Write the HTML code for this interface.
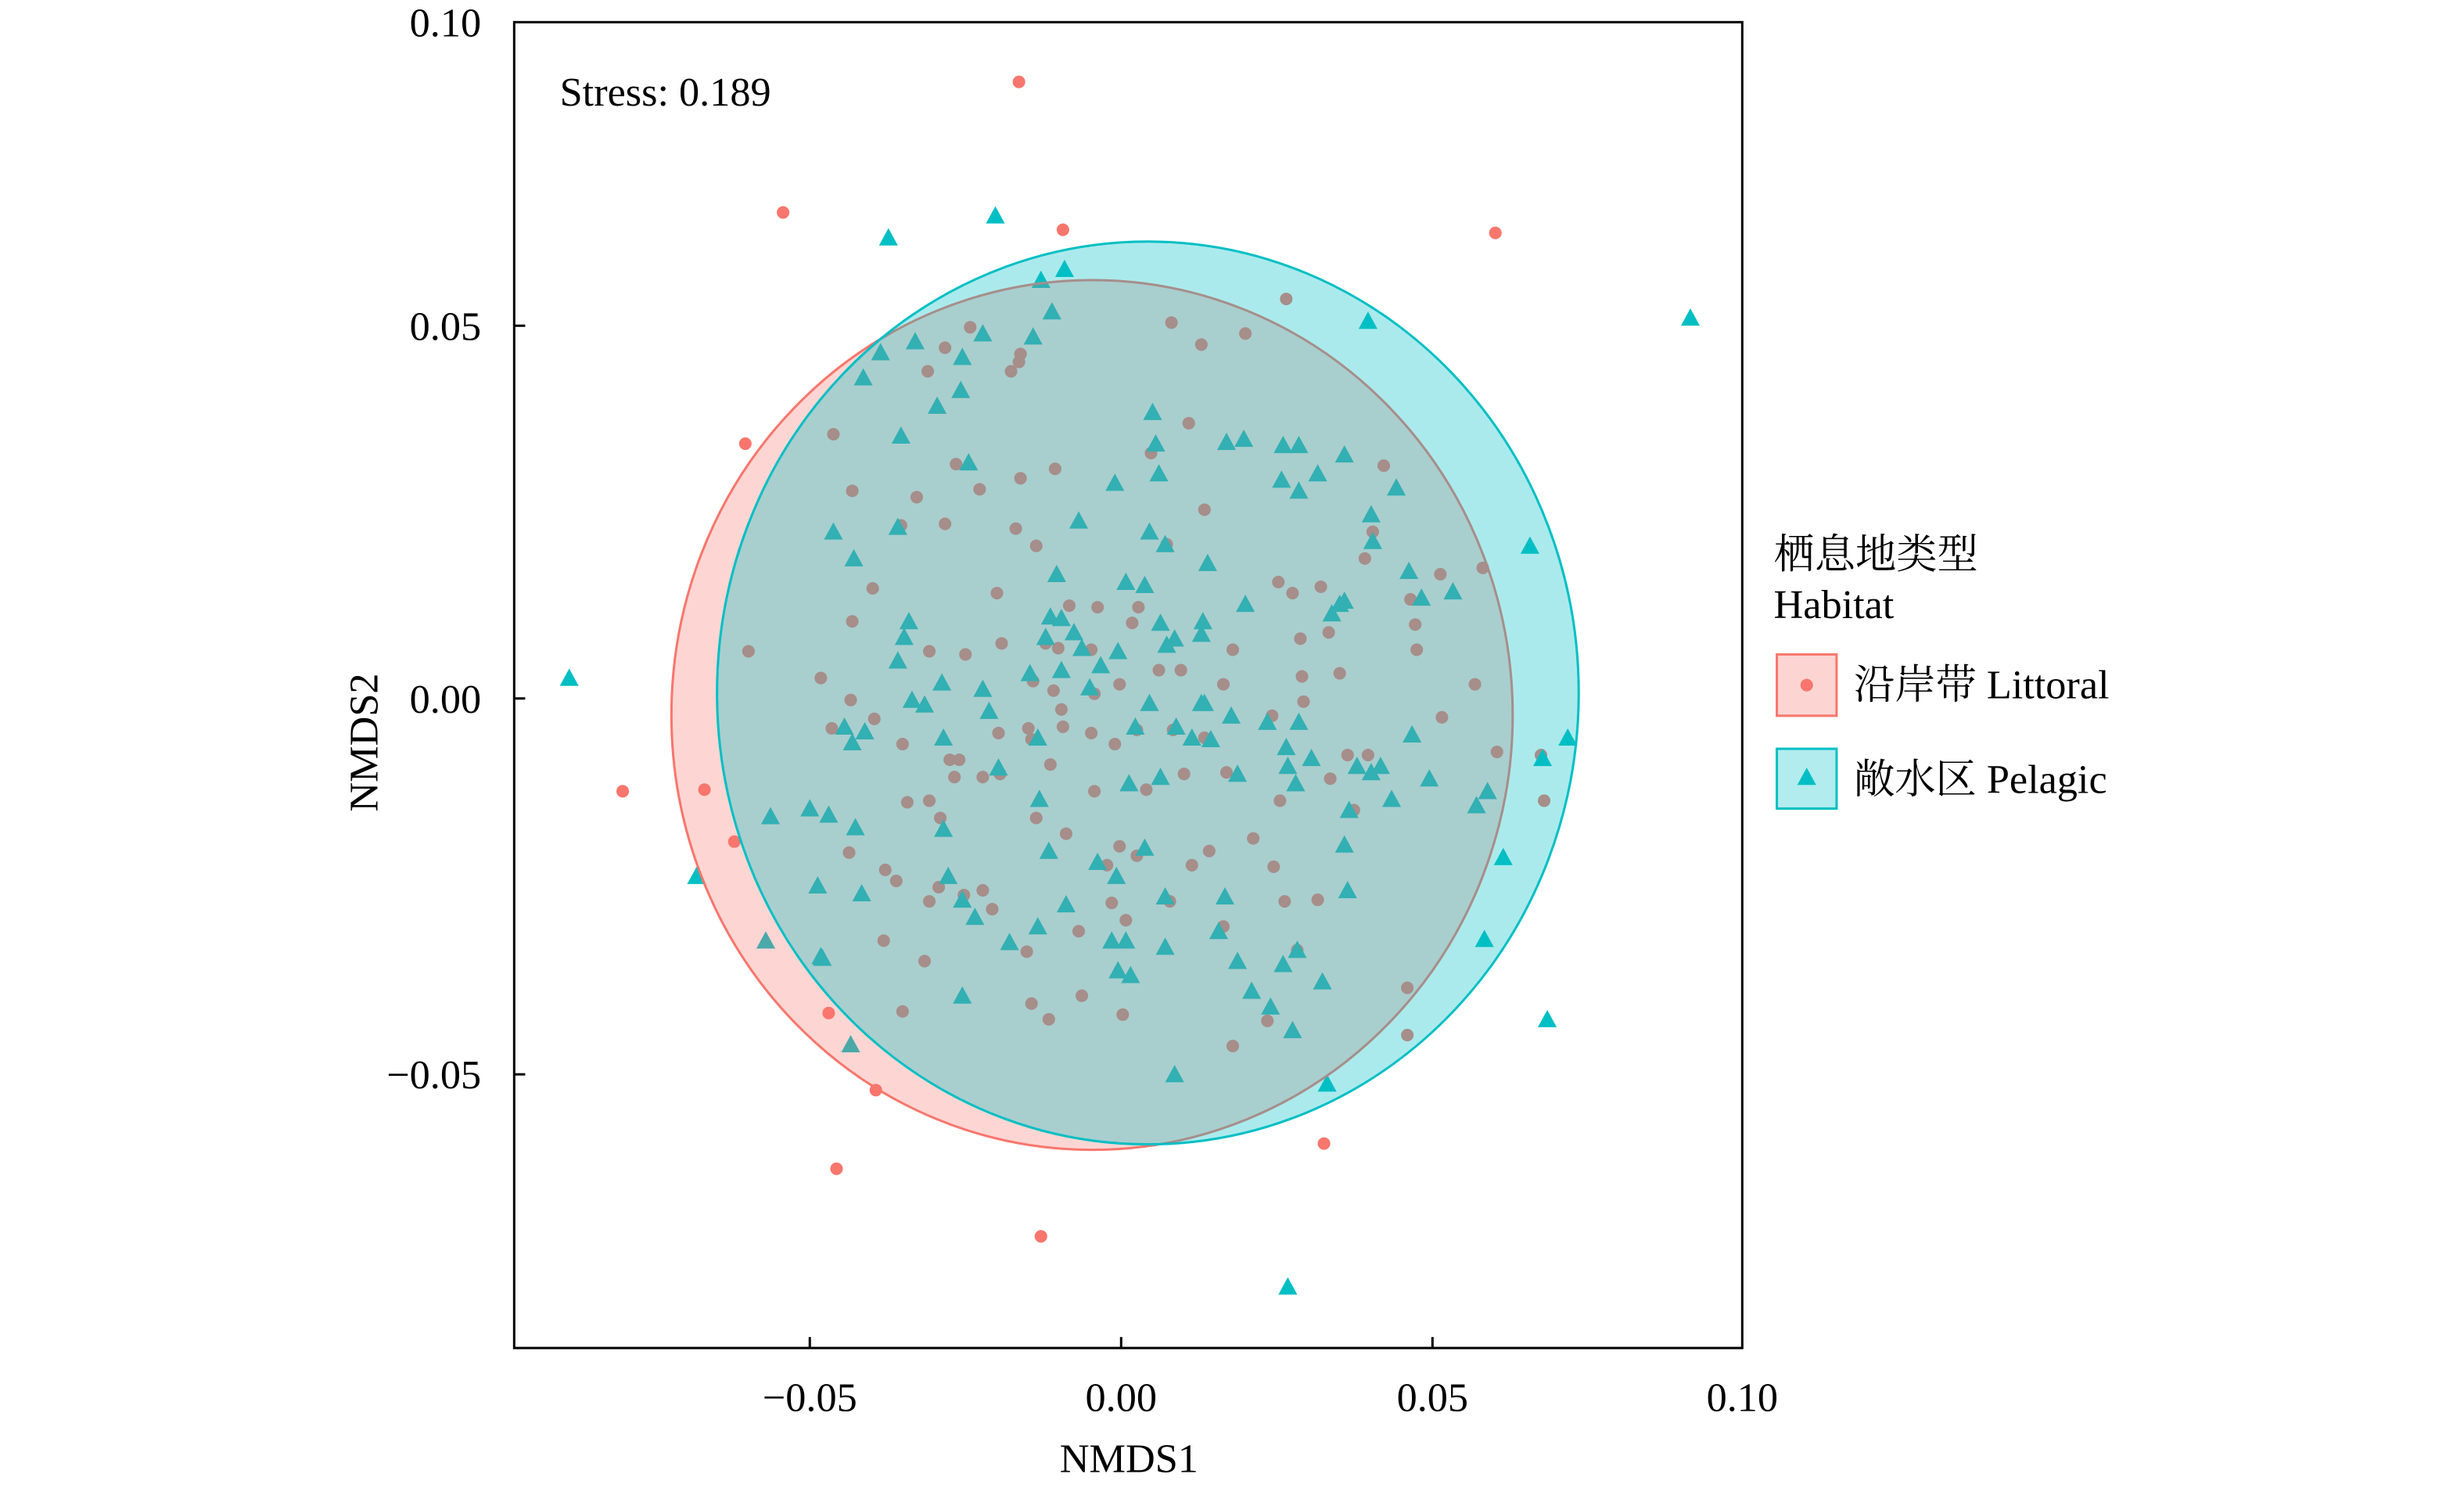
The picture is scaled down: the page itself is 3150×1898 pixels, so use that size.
<!DOCTYPE html>
<html><head><meta charset="utf-8"><style>
html,body{margin:0;padding:0;background:#fff;}
svg{display:block;}
text{font-family:"Liberation Serif","Noto Serif CJK SC",serif;fill:#000;}
</style></head><body>
<svg id="s" width="3150" height="1898" viewBox="0 0 1567 944" xmlns="http://www.w3.org/2000/svg">
<g id="pts"></g>
<ellipse cx="694.5" cy="454.5" rx="267.5" ry="276.5" fill="#F8766D" fill-opacity="0.3" stroke="#F8766D" stroke-width="1.5"/>
<ellipse cx="730" cy="440.5" rx="274" ry="287" fill="#00BFC4" fill-opacity="0.33" stroke="#00BFC4" stroke-width="1.5"/>
<rect x="327" y="14" width="781" height="843" fill="none" stroke="#000" stroke-width="1.5"/>
<g stroke="#000" stroke-width="1.5">
<line x1="515" y1="857" x2="515" y2="850"/><line x1="713" y1="857" x2="713" y2="850"/><line x1="911" y1="857" x2="911" y2="850"/>
<line x1="327" y1="207" x2="334" y2="207"/><line x1="327" y1="444" x2="334" y2="444"/><line x1="327" y1="683" x2="334" y2="683"/>
</g>
<g font-size="26" text-anchor="end">
<text x="306" y="23">0.10</text><text x="306" y="216">0.05</text><text x="306" y="453">0.00</text><text x="306" y="692">−0.05</text>
</g>
<g font-size="26" text-anchor="middle">
<text x="515" y="897">−0.05</text><text x="713" y="897">0.00</text><text x="911" y="897">0.05</text><text x="1108" y="897">0.10</text>
<text x="718" y="936">NMDS1</text>
<text transform="translate(240,472) rotate(-90)">NMDS2</text>
</g>
<text x="356" y="67" font-size="26">Stress: 0.189</text>
<text x="1128" y="361" font-size="26">栖息地类型</text>
<text x="1128" y="393" font-size="26">Habitat</text>
<rect x="1130" y="416" width="38" height="39" fill="#fcd5d2" stroke="#F8766D" stroke-width="1.5"/>
<circle cx="1149" cy="435.5" r="4" fill="#F8766D"/>
<text x="1179" y="444" font-size="26">沿岸带 Littoral</text>
<rect x="1130" y="476" width="38" height="38" fill="#b2ecee" stroke="#00BFC4" stroke-width="1.5"/>
<polygon points="1149,488 1155,499 1143,499" fill="#00BFC4"/>
<text x="1179" y="504" font-size="26">敞水区 Pelagic</text>
</svg>
<script>
var R=[[648,52],[498,135],[676,146],[951,148],[474,282],[396,503],[448,502],[467,535],[527,644],[557,693],[532,743],[662,786],[842,727],[895,628],[895,658],[982,509],[980,480],[952,478],[880,296],[476,414],
[818,190],[745,205],[792,212],[764,219],[617,208],[601,221],[649,225],[643,236],[590,236],[648,230],[530,276],[756,269],[732,288],[671,298],[649,304],[608,295],[542,312],[623,311],[583,316],[601,333],[573,334],[646,336],[766,324],[659,347],[742,346],[873,338],[868,355],[916,365],[943,361],[897,381],[900,397],[901,413],[938,435],[917,456],[840,373],[822,377],[845,402],[827,406],[784,413],[698,386],[680,385],[673,412],[694,413],[665,409],[634,377],[637,409],[614,416],[591,414],[555,374],[542,395],[522,431],[541,445],[529,463],[556,457],[657,433],[670,439],[675,451],[696,441],[712,435],[737,426],[751,426],[778,435],[828,430],[852,428],[829,446],[809,455],[766,469],[746,464],[723,464],[709,473],[694,466],[656,470],[668,486],[676,462],[654,463],[635,466],[625,494],[636,492],[607,494],[604,483],[574,473],[610,483],[591,509],[577,510],[598,520],[540,542],[563,553],[570,560],[597,564],[591,573],[613,569],[625,566],[631,578],[562,598],[588,611],[574,643],[653,605],[656,638],[667,648],[678,530],[712,538],[704,550],[723,544],[758,550],[769,541],[797,533],[810,551],[817,573],[778,589],[744,573],[707,574],[686,592],[688,633],[714,645],[716,585],[659,520],[696,503],[729,502],[753,492],[780,491],[814,509],[870,480],[857,480],[861,515],[846,495],[784,665],[825,604],[806,649],[838,572],[813,370],[724,386],[720,396]];
var T=[[565,151],[633,137],[1075,202],[362,431],[870,204],[677,171],[662,178],[973,347],[997,469],[981,482],[956,545],[944,597],[984,648],[844,689],[819,818],[747,683],[443,557],[487,598],[541,664],[522,608],[490,519],
[669,198],[657,214],[625,212],[612,227],[582,217],[560,224],[549,240],[611,248],[596,258],[573,277],[530,338],[571,335],[543,355],[616,294],[733,262],[735,282],[737,301],[780,281],[791,279],[816,283],[826,283],[838,301],[855,289],[888,310],[872,327],[826,312],[815,305],[709,307],[686,331],[731,338],[741,346],[768,358],[792,384],[852,384],[847,390],[855,382],[896,363],[904,380],[924,376],[873,344],[898,467],[872,491],[863,487],[878,487],[909,495],[885,508],[858,515],[946,503],[939,512],[855,537],[857,566],[834,482],[818,475],[806,459],[783,455],[770,470],[766,447],[748,462],[731,447],[722,462],[711,414],[700,423],[688,412],[693,437],[675,426],[668,392],[675,393],[683,402],[716,370],[728,372],[738,396],[747,406],[742,410],[764,403],[765,395],[764,447],[672,365],[665,405],[655,428],[629,452],[625,438],[599,434],[588,448],[575,405],[578,395],[571,420],[550,465],[537,462],[542,472],[515,514],[527,518],[544,526],[580,445],[600,469],[635,488],[660,469],[718,498],[738,494],[758,469],[787,492],[819,487],[826,459],[779,570],[741,570],[710,557],[698,548],[667,541],[661,508],[600,527],[603,557],[612,572],[620,583],[520,563],[548,568],[523,609],[612,633],[642,599],[660,589],[678,575],[707,598],[716,598],[711,617],[719,620],[741,602],[775,592],[787,611],[796,630],[808,640],[816,613],[825,604],[841,624],[822,655],[824,498],[728,539]];
var g=document.getElementById('pts'),h='';
R.forEach(function(p){h+='<circle cx="'+p[0]+'" cy="'+p[1]+'" r="4" fill="#F8766D"/>';});
T.forEach(function(p){var x=p[0],y=p[1];h+='<polygon points="'+x+','+(y-6)+' '+(x+6)+','+(y+5)+' '+(x-6)+','+(y+5)+'" fill="#00BFC4"/>';});
g.innerHTML=h;
</script>
</body></html>
